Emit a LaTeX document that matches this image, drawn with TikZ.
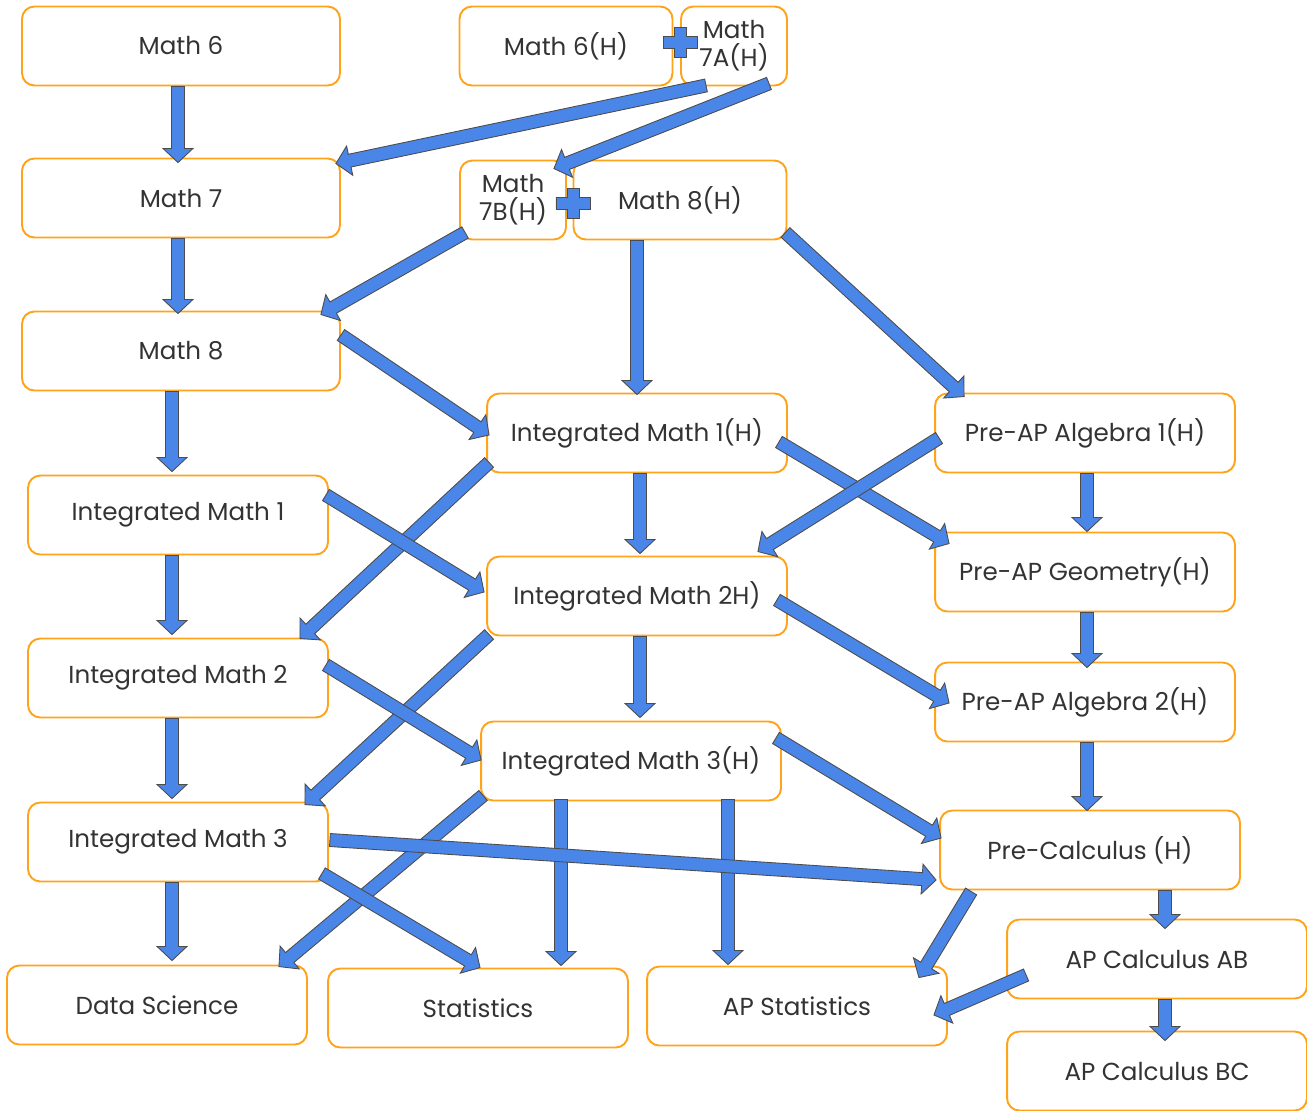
\documentclass[tikz,border=0pt]{standalone}
\usepackage{fontspec}
\setmainfont{Poppins}
\usetikzlibrary{calc}
\definecolor{boxorange}{HTML}{FFA31A}
\definecolor{flowblue}{HTML}{4A86E8}
\definecolor{textgray}{HTML}{333333}
\tikzset{
  course/.style={draw=boxorange, line width=1.1pt, rounded corners=7pt, fill=white,
    minimum width=6cm, minimum height=1.58cm, align=center, text=textgray,
    font=\fontsize{14}{16}\selectfont, inner sep=0pt},
  mathbox/.style={course, minimum width=6.36cm},
  halfbox/.style={course, minimum width=4.26cm},
  narrowbox/.style={course, minimum width=2.12cm},
  flow/.style={fill=flowblue, draw=black!70, line width=0.5pt, line join=miter,
    to path={let \p1=(\tikztostart), \p2=(\tikztotarget),
      \n1={atan2(\y2-\y1,\x2-\x1)}, \p3=($(\p2)+(\n1+180:8pt)$) in
      -- ($(\p1)+(\n1+90:3.7pt)$) -- ($(\p3)+(\n1+90:3.7pt)$)
      -- ($(\p3)+(\n1+90:8.5pt)$) -- (\p2)
      -- ($(\p3)+(\n1-90:8.5pt)$) -- ($(\p3)+(\n1-90:3.7pt)$)
      -- ($(\p1)+(\n1-90:3.7pt)$) -- cycle}},
  joinplus/.pic={
    \filldraw[fill=flowblue, draw=black!70, line width=0.5pt]
      (-17,-6) -- (-6,-6) -- (-6,-15) -- (6,-15) -- (6,-6) -- (17,-6)
      -- (17,6) -- (6,6) -- (6,15) -- (-6,15) -- (-6,6) -- (-17,6) -- cycle;}
}

\begin{document}
\begin{tikzpicture}[x=0.02cm, y=-0.02cm]
  \useasboundingbox (0,0) rectangle (1307,1110);

  % middle school
  \node[mathbox] (m6) at (181,46) {Math 6};
  \node[halfbox] (m6h) at (566,46) {Math 6(H)};
  \node[narrowbox] (m7a) at (734,46) {Math\\7A(H)};
  \node[mathbox] (m7) at (181,198) {Math 7};
  \node[narrowbox] (m7b) at (513,200) {Math\\7B(H)};
  \node[halfbox] (m8h) at (680,200) {Math 8(H)};
  \node[mathbox] (m8) at (181,351) {Math 8};

  % high school
  \node[course] (im1h) at (637,433) {Integrated Math 1(H)};
  \node[course] (alg1) at (1085,433) {Pre-AP Algebra 1(H)};
  \node[course] (im1) at (178,515) {Integrated Math 1};
  \node[course] (geo) at (1085,572) {Pre-AP Geometry(H)};
  \node[course] (im2h) at (637,596) {Integrated Math 2H)};
  \node[course] (im2) at (178,678) {Integrated Math 2};
  \node[course] (alg2) at (1085,702) {Pre-AP Algebra 2(H)};
  \node[course] (im3h) at (631,761) {Integrated Math 3(H)};
  \node[course] (im3) at (178,842) {Integrated Math 3};
  \node[course] (pcalc) at (1090,850) {Pre-Calculus (H)};
  \node[course] (calcab) at (1157,959) {AP Calculus AB};
  \node[course] (ds) at (157,1005) {Data Science};
  \node[course] (stat) at (478,1008) {Statistics};
  \node[course] (apstat) at (797,1006) {AP Statistics};
  \node[course] (calcbc) at (1157,1071) {AP Calculus BC};

  \pic at ($(m6h.east)+(7,-4)$) {joinplus};
  \pic at ($(m7b.east)+(6,3)$) {joinplus};

  % pathways
  \draw[flow] ($(m6.south)+(-3,0)$) to ($(m7.north)+(-3,5)$);
  \draw[flow] ($(m7a.south)+(-28,-1)$) to ($(m7.north east)+(-5,6)$);
  \draw[flow] ($(m7a.south east)+(-19,-3)$) to ($(m7b.north east)+(-13,9)$);
  \draw[flow] ($(m7.south)+(-3,0)$) to ($(m8.north)+(-3,3)$);
  \draw[flow] ($(m7b.south west)+(6,-8)$) to ($(m8.north east)+(-20,4)$);
  \draw[flow] ($(m8h.south)+(-43,0)$) to ($(im1h.north)+(0,2)$);
  \draw[flow] ($(m8h.south east)+(-2,-8)$) to ($(alg1.north west)+(30,4)$);
  \draw[flow] ($(m8.east)+(0,-16)$) to ($(im1h.west)+(3,2)$);
  \draw[flow] ($(m8.south)+(-9,0)$) to ($(im1.north)+(-6,-3)$);
  \draw[flow] ($(im1h.south)+(3,0)$) to ($(im2h.north)+(3,-2)$);
  \draw[flow] ($(im1h.east)+(-9,9)$) to ($(geo.north west)+(15,12)$);
  \draw[flow] ($(im1h.south west)+(3,-11)$) to ($(im2.north east)+(-29,1)$);
  \draw[flow] ($(alg1.west)+(5,5)$) to ($(im2h.north east)+(-30,-4)$);
  \draw[flow] ($(alg1.south)+(2,0)$) to ($(geo.north)+(2,0)$);
  \draw[flow] ($(im1.east)+(-3,-20)$) to ($(im2h.west)+(-2,-4)$);
  \draw[flow] ($(im1.south)+(-6,0)$) to ($(im2.north)+(-6,-3)$);
  \draw[flow] ($(im2h.south)+(3,0)$) to ($(im3h.north)+(9,-3)$);
  \draw[flow] ($(im2h.east)+(-11,4)$) to ($(alg2.west)+(15,1)$);
  \draw[flow] ($(im2h.south west)+(3,-2)$) to ($(im3.north east)+(-24,3)$);
  \draw[flow] ($(geo.south)+(2,0)$) to ($(alg2.north)+(2,6)$);
  \draw[flow] ($(im2.east)+(-3,-13)$) to ($(im3h.west)+(1,-1)$);
  \draw[flow] ($(im2.south)+(-6,0)$) to ($(im3.north)+(-6,-3)$);
  \draw[flow] ($(alg2.south)+(2,0)$) to ($(pcalc.north)+(-3,1)$);
  \draw[flow] ($(im3h.east)+(-6,-23)$) to ($(pcalc.west)+(2,-12)$);
  \draw[flow] ($(im3h.south west)+(3,-6)$) to ($(ds.north east)+(-29,2)$);
  \draw[flow] ($(im3h.south)+(-70,-2)$) to ($(stat.north)+(83,-2)$);
  \draw[flow] ($(im3h.south)+(97,-2)$) to ($(apstat.north)+(-69,-1)$);
  \draw[flow] ($(im3.east)+(1,-2)$) to ($(pcalc.west)+(-3,30)$);
  \draw[flow] ($(im3.south)+(-6,0)$) to ($(ds.north)+(15,-4)$);
  \draw[flow] ($(im3.south east)+(-7,-9)$) to ($(stat.north)+(2,0)$);
  \draw[flow] ($(pcalc.south west)+(32,1)$) to ($(apstat.north east)+(-29,12)$);
  \draw[flow] ($(pcalc.south)+(75,0)$) to ($(calcab.north)+(8,10)$);
  \draw[flow] ($(calcab.west)+(20,16)$) to ($(apstat.east)+(-14,9)$);
  \draw[flow] ($(calcab.south)+(8,0)$) to ($(calcbc.north)+(8,10)$);
\end{tikzpicture}
\end{document}
